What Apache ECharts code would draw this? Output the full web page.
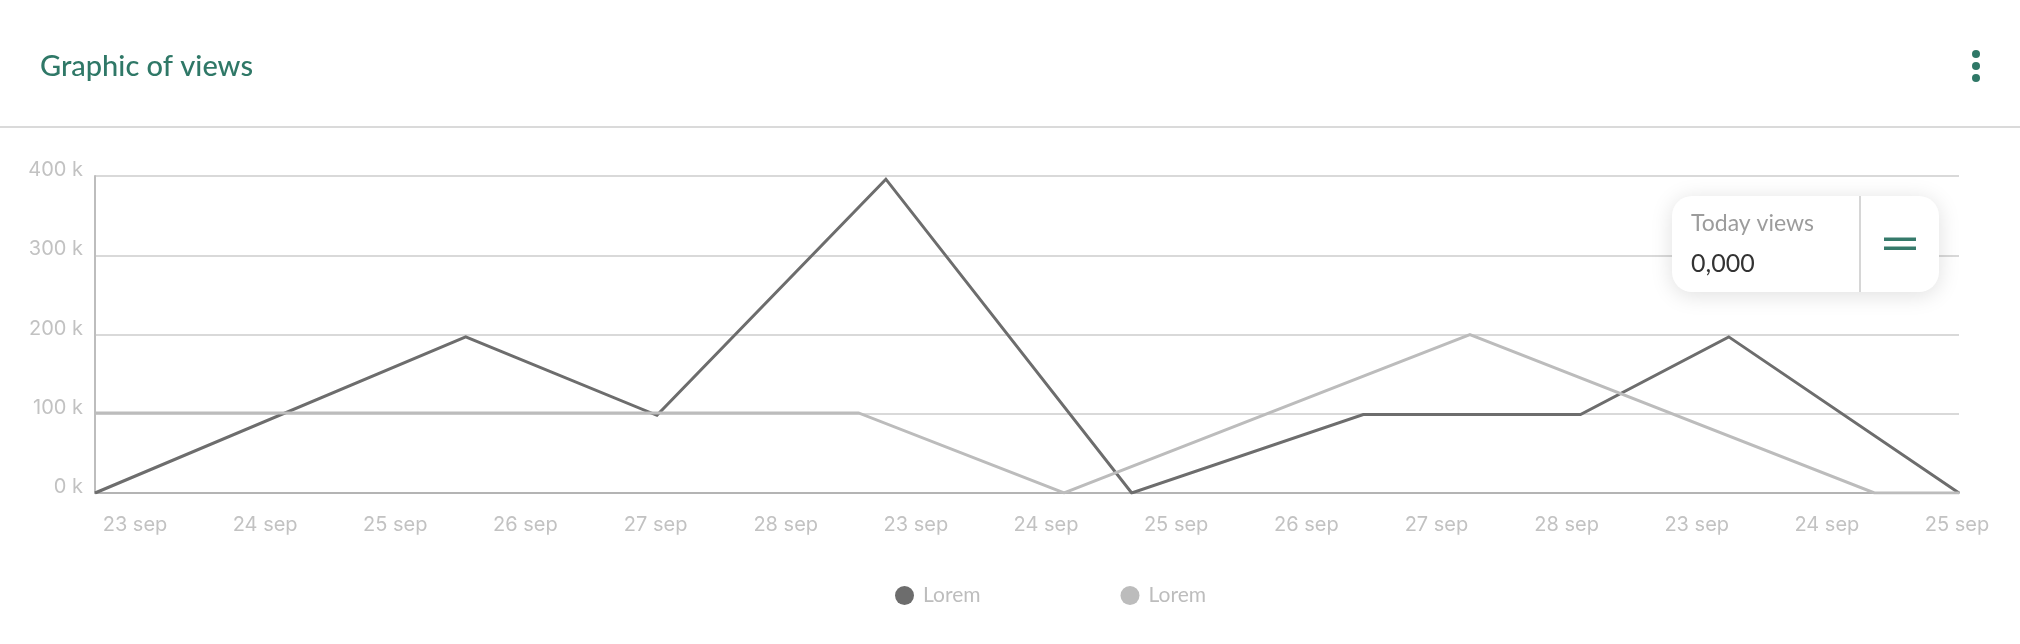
<!DOCTYPE html>
<html>
<head>
<meta charset="utf-8">
<style>
  html, body { margin: 0; padding: 0; background: #ffffff; }
  #chart { width: 2020px; height: 644px; }
</style>
<script src="https://cdn.jsdelivr.net/npm/echarts@6/dist/echarts.min.js"></script>
</head>
<body>
<div id="chart"></div>
<script>
// Day labels shown under the plot (three repeating weeks of dates)
const dayLabels = ['23 sep', '24 sep', '25 sep', '26 sep', '27 sep', '28 sep',
                   '23 sep', '24 sep', '25 sep', '26 sep', '27 sep', '28 sep',
                   '23 sep', '24 sep', '25 sep'];

// Visible day-index range of the plot (slightly wider than the label span)
const dayMin = -0.31;
const dayMax = 14.02;

// Series: [day index, views]
const seriesDarkName = 'Lorem';
const seriesDark = [
  [-0.31, 0], [2.54, 197000], [4.01, 98000], [5.77, 396000], [7.66, 0],
  [9.44, 99000], [11.11, 99000], [12.25, 197000], [14.02, 0]
];
const seriesLightName = 'Lorem ';
const seriesLight = [
  [-0.31, 101000], [5.56, 101000], [7.14, 0], [10.26, 200000], [13.37, 0], [14.02, 0]
];

// Value axis ticks
const yMin = 0;
const yMax = 400000;
const yStep = 100000;

const titleText = 'Graphic of views';
const cardLabel = 'Today views';
const cardValue = '0,000';

const teal = '#2f7867';
const axisFont = 'Inter, sans-serif';

const chart = echarts.init(document.getElementById('chart'), null, { renderer: 'canvas' });

chart.setOption({
  backgroundColor: '#ffffff',
  animation: false,
  title: {
    text: titleText,
    left: 35,
    top: 47,
    textStyle: { color: teal, fontSize: 29, fontWeight: 500, fontFamily: 'Lato, sans-serif' }
  },
  legend: {
    left: 890,
    top: 580,
    icon: 'circle',
    itemWidth: 19,
    itemHeight: 19,
    itemGap: 140,
    formatter: () => 'Lorem',
    textStyle: { color: '#bdbdbd', fontSize: 21, fontFamily: 'Lato, sans-serif', width: 60, padding: [0, 0, 0, 4] },
    data: [seriesDarkName, seriesLightName]
  },
  grid: [
    { left: 95, right: 61, top: 176, bottom: 151 },
    { left: 135, right: 63, top: 480, bottom: 151 }
  ],
  xAxis: [
    {
      type: 'value', gridIndex: 0, min: dayMin, max: dayMax,
      axisLine: { show: true, onZero: false, lineStyle: { color: '#b4b4b4', width: 2 } },
      axisTick: { show: false }, axisLabel: { show: false }, splitLine: { show: false }
    },
    {
      type: 'category', gridIndex: 1, data: dayLabels, boundaryGap: false,
      axisLine: { show: false }, axisTick: { show: false }, splitLine: { show: false },
      axisLabel: { color: '#c2c2c2', fontSize: 20, fontFamily: axisFont, margin: 22, interval: 0 }
    }
  ],
  yAxis: [
    {
      type: 'value', gridIndex: 0, min: yMin, max: yMax, interval: yStep,
      axisLine: { show: true, onZero: false, lineStyle: { color: '#bdbdbd', width: 2 } },
      axisTick: { show: false },
      splitLine: { show: true, lineStyle: { color: '#d9d9d9', width: 2 } },
      axisLabel: {
        color: '#c2c2c2', fontSize: 20, fontFamily: axisFont, margin: 12,
        verticalAlign: 'bottom', lineHeight: 12,
        formatter: v => (v / 1000) + ' k'
      }
    },
    {
      type: 'value', gridIndex: 1, show: false
    }
  ],
  series: [
    {
      name: seriesDarkName, type: 'line', xAxisIndex: 0, yAxisIndex: 0,
      data: seriesDark, showSymbol: false, color: '#6d6d6d',
      lineStyle: { width: 3, color: '#6d6d6d', join: 'miter' }
    },
    {
      name: seriesLightName, type: 'line', xAxisIndex: 0, yAxisIndex: 0,
      data: seriesLight, showSymbol: false, color: '#bcbcbc',
      lineStyle: { width: 3, color: '#bcbcbc', join: 'miter' }
    }
  ],
  graphic: [
    // header separator
    { type: 'rect', shape: { x: 0, y: 126, width: 2020, height: 2 }, style: { fill: '#dadada' }, silent: true },
    // menu dots
    { type: 'circle', shape: { cx: 1976, cy: 54, r: 4 }, style: { fill: teal } },
    { type: 'circle', shape: { cx: 1976, cy: 66, r: 4 }, style: { fill: teal } },
    { type: 'circle', shape: { cx: 1976, cy: 78, r: 4 }, style: { fill: teal } },
    // today views card
    {
      type: 'rect', z: 100,
      shape: { x: 1672, y: 196, width: 267, height: 96, r: 20 },
      style: { fill: '#ffffff', shadowColor: 'rgba(0,0,0,0.13)', shadowBlur: 22, shadowOffsetY: 3 }
    },
    { type: 'rect', z: 101, shape: { x: 1859, y: 196, width: 2, height: 96 }, style: { fill: '#d6d6d6' } },
    {
      type: 'text', z: 101, x: 1691, y: 224,
      style: { text: cardLabel, fill: '#9c9c9c', font: '23px Lato, sans-serif', verticalAlign: 'middle' }
    },
    {
      type: 'text', z: 101, x: 1691, y: 264,
      style: { text: cardValue, fill: '#333333', font: '25px Lato, sans-serif', verticalAlign: 'middle' }
    },
    { type: 'rect', z: 101, shape: { x: 1884, y: 237.5, width: 32, height: 3.5 }, style: { fill: '#367a6b' } },
    { type: 'rect', z: 101, shape: { x: 1884, y: 246.5, width: 32, height: 3.5 }, style: { fill: '#367a6b' } }
  ]
});
</script>
</body>
</html>
